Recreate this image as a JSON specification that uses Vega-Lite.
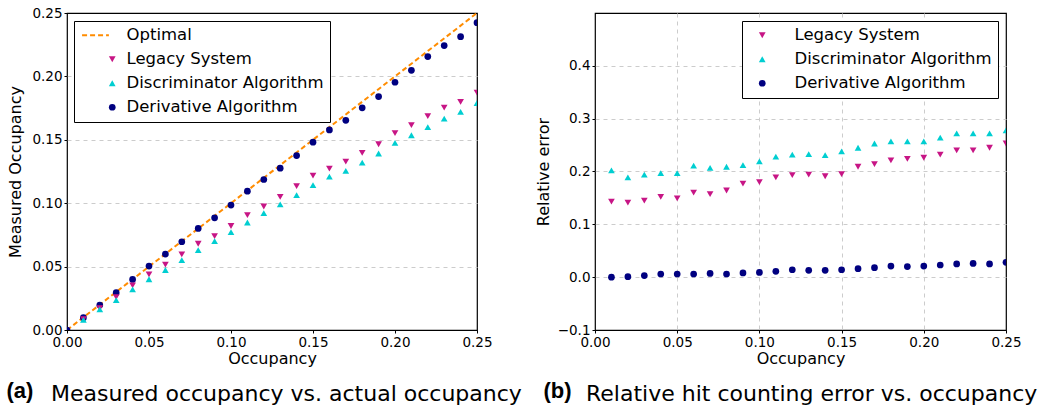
{
  "$schema": "https://vega.github.io/schema/vega-lite/v6.json",
  "background": "white",
  "padding": {"left": 5, "top": 5, "right": 5, "bottom": 5},
  "bounds": "flush",
  "spacing": 118,
  "config": {
    "font": "DejaVu Sans",
    "view": {"stroke": "black", "strokeWidth": 1.2},
    "axis": {
      "domain": false,
      "grid": true,
      "gridDash": [4, 4],
      "gridColor": "#cccccc",
      "gridWidth": 1,
      "tickColor": "black",
      "tickSize": 3,
      "labelFlush": false,
      "labelFont": "DejaVu Sans",
      "labelFontSize": 13.5,
      "labelColor": "black",
      "labelPadding": 2,
      "titleFont": "DejaVu Sans",
      "titleFontSize": 16,
      "titleFontWeight": "normal",
      "titleColor": "black"
    },
    "legend": {
      "labelLimit": 400
    },
    "title": {
      "font": "DejaVu Sans",
      "fontSize": 22,
      "fontWeight": "normal",
      "color": "black",
      "orient": "bottom",
      "anchor": "start",
      "frame": "group",
      "offset": -17
    }
  },
  "datasets": {
    "measured": [
      {"occ": 0.00, "val": 0.0, "series": "Derivative Algorithm"},
      {"occ": 0.01, "val": 0.0097, "series": "Derivative Algorithm"},
      {"occ": 0.02, "val": 0.0197, "series": "Derivative Algorithm"},
      {"occ": 0.03, "val": 0.0294, "series": "Derivative Algorithm"},
      {"occ": 0.04, "val": 0.0399, "series": "Derivative Algorithm"},
      {"occ": 0.05, "val": 0.0504, "series": "Derivative Algorithm"},
      {"occ": 0.06, "val": 0.0599, "series": "Derivative Algorithm"},
      {"occ": 0.07, "val": 0.0696, "series": "Derivative Algorithm"},
      {"occ": 0.08, "val": 0.0801, "series": "Derivative Algorithm"},
      {"occ": 0.09, "val": 0.0885, "series": "Derivative Algorithm"},
      {"occ": 0.10, "val": 0.0985, "series": "Derivative Algorithm"},
      {"occ": 0.11, "val": 0.1095, "series": "Derivative Algorithm"},
      {"occ": 0.12, "val": 0.1187, "series": "Derivative Algorithm"},
      {"occ": 0.13, "val": 0.1276, "series": "Derivative Algorithm"},
      {"occ": 0.14, "val": 0.1376, "series": "Derivative Algorithm"},
      {"occ": 0.15, "val": 0.1481, "series": "Derivative Algorithm"},
      {"occ": 0.16, "val": 0.1578, "series": "Derivative Algorithm"},
      {"occ": 0.17, "val": 0.1654, "series": "Derivative Algorithm"},
      {"occ": 0.18, "val": 0.1752, "series": "Derivative Algorithm"},
      {"occ": 0.19, "val": 0.1841, "series": "Derivative Algorithm"},
      {"occ": 0.20, "val": 0.1954, "series": "Derivative Algorithm"},
      {"occ": 0.21, "val": 0.2048, "series": "Derivative Algorithm"},
      {"occ": 0.22, "val": 0.2156, "series": "Derivative Algorithm"},
      {"occ": 0.23, "val": 0.2243, "series": "Derivative Algorithm"},
      {"occ": 0.24, "val": 0.2313, "series": "Derivative Algorithm"},
      {"occ": 0.25, "val": 0.2424, "series": "Derivative Algorithm"},
      {"occ": 0.01, "val": 0.0086, "series": "Legacy System"},
      {"occ": 0.02, "val": 0.0172, "series": "Legacy System"},
      {"occ": 0.03, "val": 0.026, "series": "Legacy System"},
      {"occ": 0.04, "val": 0.0352, "series": "Legacy System"},
      {"occ": 0.05, "val": 0.0439, "series": "Legacy System"},
      {"occ": 0.06, "val": 0.0515, "series": "Legacy System"},
      {"occ": 0.07, "val": 0.0596, "series": "Legacy System"},
      {"occ": 0.08, "val": 0.068, "series": "Legacy System"},
      {"occ": 0.09, "val": 0.074, "series": "Legacy System"},
      {"occ": 0.10, "val": 0.082, "series": "Legacy System"},
      {"occ": 0.11, "val": 0.0906, "series": "Legacy System"},
      {"occ": 0.12, "val": 0.0974, "series": "Legacy System"},
      {"occ": 0.13, "val": 0.105, "series": "Legacy System"},
      {"occ": 0.14, "val": 0.1134, "series": "Legacy System"},
      {"occ": 0.15, "val": 0.1218, "series": "Legacy System"},
      {"occ": 0.16, "val": 0.1273, "series": "Legacy System"},
      {"occ": 0.17, "val": 0.1328, "series": "Legacy System"},
      {"occ": 0.18, "val": 0.1397, "series": "Legacy System"},
      {"occ": 0.19, "val": 0.1465, "series": "Legacy System"},
      {"occ": 0.20, "val": 0.1552, "series": "Legacy System"},
      {"occ": 0.21, "val": 0.1615, "series": "Legacy System"},
      {"occ": 0.22, "val": 0.1686, "series": "Legacy System"},
      {"occ": 0.23, "val": 0.1754, "series": "Legacy System"},
      {"occ": 0.24, "val": 0.1799, "series": "Legacy System"},
      {"occ": 0.25, "val": 0.1872, "series": "Legacy System"},
      {"occ": 0.01, "val": 0.008, "series": "Discriminator Algorithm"},
      {"occ": 0.02, "val": 0.0162, "series": "Discriminator Algorithm"},
      {"occ": 0.03, "val": 0.0236, "series": "Discriminator Algorithm"},
      {"occ": 0.04, "val": 0.032, "series": "Discriminator Algorithm"},
      {"occ": 0.05, "val": 0.040, "series": "Discriminator Algorithm"},
      {"occ": 0.06, "val": 0.0473, "series": "Discriminator Algorithm"},
      {"occ": 0.07, "val": 0.0551, "series": "Discriminator Algorithm"},
      {"occ": 0.08, "val": 0.063, "series": "Discriminator Algorithm"},
      {"occ": 0.09, "val": 0.0701, "series": "Discriminator Algorithm"},
      {"occ": 0.10, "val": 0.0772, "series": "Discriminator Algorithm"},
      {"occ": 0.11, "val": 0.0848, "series": "Discriminator Algorithm"},
      {"occ": 0.12, "val": 0.0922, "series": "Discriminator Algorithm"},
      {"occ": 0.13, "val": 0.099, "series": "Discriminator Algorithm"},
      {"occ": 0.14, "val": 0.1064, "series": "Discriminator Algorithm"},
      {"occ": 0.15, "val": 0.1142, "series": "Discriminator Algorithm"},
      {"occ": 0.16, "val": 0.121, "series": "Discriminator Algorithm"},
      {"occ": 0.17, "val": 0.1255, "series": "Discriminator Algorithm"},
      {"occ": 0.18, "val": 0.132, "series": "Discriminator Algorithm"},
      {"occ": 0.19, "val": 0.1392, "series": "Discriminator Algorithm"},
      {"occ": 0.20, "val": 0.1476, "series": "Discriminator Algorithm"},
      {"occ": 0.21, "val": 0.1536, "series": "Discriminator Algorithm"},
      {"occ": 0.22, "val": 0.160, "series": "Discriminator Algorithm"},
      {"occ": 0.23, "val": 0.1667, "series": "Discriminator Algorithm"},
      {"occ": 0.24, "val": 0.172, "series": "Discriminator Algorithm"},
      {"occ": 0.25, "val": 0.179, "series": "Discriminator Algorithm"}
    ],
    "optimal": [
      {"occ": 0.0, "val": 0.0, "series": "Optimal"},
      {"occ": 0.25, "val": 0.25, "series": "Optimal"}
    ],
    "relerr": [
      {"occ": 0.01, "val": 0.143, "series": "Legacy System"},
      {"occ": 0.02, "val": 0.141, "series": "Legacy System"},
      {"occ": 0.03, "val": 0.145, "series": "Legacy System"},
      {"occ": 0.04, "val": 0.152, "series": "Legacy System"},
      {"occ": 0.05, "val": 0.149, "series": "Legacy System"},
      {"occ": 0.06, "val": 0.160, "series": "Legacy System"},
      {"occ": 0.07, "val": 0.157, "series": "Legacy System"},
      {"occ": 0.08, "val": 0.164, "series": "Legacy System"},
      {"occ": 0.09, "val": 0.177, "series": "Legacy System"},
      {"occ": 0.10, "val": 0.180, "series": "Legacy System"},
      {"occ": 0.11, "val": 0.189, "series": "Legacy System"},
      {"occ": 0.12, "val": 0.193, "series": "Legacy System"},
      {"occ": 0.13, "val": 0.194, "series": "Legacy System"},
      {"occ": 0.14, "val": 0.191, "series": "Legacy System"},
      {"occ": 0.15, "val": 0.195, "series": "Legacy System"},
      {"occ": 0.16, "val": 0.209, "series": "Legacy System"},
      {"occ": 0.17, "val": 0.214, "series": "Legacy System"},
      {"occ": 0.18, "val": 0.221, "series": "Legacy System"},
      {"occ": 0.19, "val": 0.224, "series": "Legacy System"},
      {"occ": 0.20, "val": 0.226, "series": "Legacy System"},
      {"occ": 0.21, "val": 0.232, "series": "Legacy System"},
      {"occ": 0.22, "val": 0.240, "series": "Legacy System"},
      {"occ": 0.23, "val": 0.240, "series": "Legacy System"},
      {"occ": 0.24, "val": 0.245, "series": "Legacy System"},
      {"occ": 0.25, "val": 0.253, "series": "Legacy System"},
      {"occ": 0.01, "val": 0.202, "series": "Discriminator Algorithm"},
      {"occ": 0.02, "val": 0.189, "series": "Discriminator Algorithm"},
      {"occ": 0.03, "val": 0.194, "series": "Discriminator Algorithm"},
      {"occ": 0.04, "val": 0.197, "series": "Discriminator Algorithm"},
      {"occ": 0.05, "val": 0.197, "series": "Discriminator Algorithm"},
      {"occ": 0.06, "val": 0.211, "series": "Discriminator Algorithm"},
      {"occ": 0.07, "val": 0.207, "series": "Discriminator Algorithm"},
      {"occ": 0.08, "val": 0.209, "series": "Discriminator Algorithm"},
      {"occ": 0.09, "val": 0.212, "series": "Discriminator Algorithm"},
      {"occ": 0.10, "val": 0.219, "series": "Discriminator Algorithm"},
      {"occ": 0.11, "val": 0.228, "series": "Discriminator Algorithm"},
      {"occ": 0.12, "val": 0.232, "series": "Discriminator Algorithm"},
      {"occ": 0.13, "val": 0.233, "series": "Discriminator Algorithm"},
      {"occ": 0.14, "val": 0.231, "series": "Discriminator Algorithm"},
      {"occ": 0.15, "val": 0.238, "series": "Discriminator Algorithm"},
      {"occ": 0.16, "val": 0.245, "series": "Discriminator Algorithm"},
      {"occ": 0.17, "val": 0.253, "series": "Discriminator Algorithm"},
      {"occ": 0.18, "val": 0.257, "series": "Discriminator Algorithm"},
      {"occ": 0.19, "val": 0.257, "series": "Discriminator Algorithm"},
      {"occ": 0.20, "val": 0.257, "series": "Discriminator Algorithm"},
      {"occ": 0.21, "val": 0.264, "series": "Discriminator Algorithm"},
      {"occ": 0.22, "val": 0.272, "series": "Discriminator Algorithm"},
      {"occ": 0.23, "val": 0.272, "series": "Discriminator Algorithm"},
      {"occ": 0.24, "val": 0.272, "series": "Discriminator Algorithm"},
      {"occ": 0.25, "val": 0.278, "series": "Discriminator Algorithm"},
      {"occ": 0.01, "val": 0.000, "series": "Derivative Algorithm"},
      {"occ": 0.02, "val": 0.001, "series": "Derivative Algorithm"},
      {"occ": 0.03, "val": 0.003, "series": "Derivative Algorithm"},
      {"occ": 0.04, "val": 0.006, "series": "Derivative Algorithm"},
      {"occ": 0.05, "val": 0.006, "series": "Derivative Algorithm"},
      {"occ": 0.06, "val": 0.006, "series": "Derivative Algorithm"},
      {"occ": 0.07, "val": 0.007, "series": "Derivative Algorithm"},
      {"occ": 0.08, "val": 0.006, "series": "Derivative Algorithm"},
      {"occ": 0.09, "val": 0.008, "series": "Derivative Algorithm"},
      {"occ": 0.10, "val": 0.009, "series": "Derivative Algorithm"},
      {"occ": 0.11, "val": 0.011, "series": "Derivative Algorithm"},
      {"occ": 0.12, "val": 0.014, "series": "Derivative Algorithm"},
      {"occ": 0.13, "val": 0.013, "series": "Derivative Algorithm"},
      {"occ": 0.14, "val": 0.013, "series": "Derivative Algorithm"},
      {"occ": 0.15, "val": 0.014, "series": "Derivative Algorithm"},
      {"occ": 0.16, "val": 0.016, "series": "Derivative Algorithm"},
      {"occ": 0.17, "val": 0.018, "series": "Derivative Algorithm"},
      {"occ": 0.18, "val": 0.021, "series": "Derivative Algorithm"},
      {"occ": 0.19, "val": 0.020, "series": "Derivative Algorithm"},
      {"occ": 0.20, "val": 0.021, "series": "Derivative Algorithm"},
      {"occ": 0.21, "val": 0.023, "series": "Derivative Algorithm"},
      {"occ": 0.22, "val": 0.025, "series": "Derivative Algorithm"},
      {"occ": 0.23, "val": 0.026, "series": "Derivative Algorithm"},
      {"occ": 0.24, "val": 0.025, "series": "Derivative Algorithm"},
      {"occ": 0.25, "val": 0.028, "series": "Derivative Algorithm"}
    ]
  },
  "resolve": {
    "scale": {"color": "independent", "shape": "independent", "x": "independent", "y": "independent"},
    "legend": {"color": "independent", "shape": "independent"}
  },
  "hconcat": [
    {
      "width": 410,
      "height": 317,
      "title": {"text": "Measured occupancy vs. actual occupancy", "dx": -16},
      "resolve": {"axis": {"x": "independent"}},
      "layer": [
        {
          "data": {"name": "optimal"},
          "mark": {"type": "line", "color": "#ff8c00", "strokeWidth": 2, "strokeDash": [5, 3], "clip": true},
          "encoding": {
            "x": {"field": "occ", "type": "quantitative", "axis": null},
            "y": {"field": "val", "type": "quantitative"}
          }
        },
        {
          "data": {"name": "measured"},
          "mark": {"type": "point", "filled": true, "opacity": 1, "size": 45, "clip": true},
          "encoding": {
            "x": {
              "field": "occ", "type": "quantitative", "title": "Occupancy",
              "scale": {"domain": [0, 0.25], "nice": false, "zero": false},
              "axis": {
                "orient": "bottom",
                "values": [0, 0.05, 0.1, 0.15, 0.2, 0.25], "format": ".2f", "titlePadding": 2,
                "gridOpacity": {"condition": {"test": "datum.value <= 0 || datum.value >= 0.25", "value": 0}, "value": 1}
              }
            },
            "y": {
              "field": "val", "type": "quantitative", "title": "Measured Occupancy",
              "scale": {"domain": [0, 0.25], "nice": false, "zero": false},
              "axis": {
                "values": [0, 0.05, 0.1, 0.15, 0.2, 0.25], "format": ".2f", "titlePadding": 8,
                "gridOpacity": {"condition": {"test": "datum.value <= 0 || datum.value >= 0.25", "value": 0}, "value": 1}
              }
            },
            "color": {
              "field": "series", "type": "nominal",
              "scale": {
                "domain": ["Optimal", "Legacy System", "Discriminator Algorithm", "Derivative Algorithm"],
                "range": ["#ff8c00", "#c71585", "#00ced1", "#000080"]
              },
              "legend": {
                "orient": "none", "legendX": 7, "legendY": 8, "title": null,
                "fillColor": "white", "strokeColor": "black", "padding": 6, "cornerRadius": 0,
                "labelFont": "DejaVu Sans", "labelFontSize": 16.5, "labelColor": "black",
                "symbolSize": 45, "rowPadding": 7, "labelOffset": 6, "symbolOffset": 24,
                "symbolStrokeColor": {"expr": "datum.value === 'Optimal' ? '#ff8c00' : 'transparent'"},
                "symbolStrokeWidth": {"expr": "datum.value === 'Optimal' ? 2 : 0"},
                "symbolDash": {"expr": "datum.value === 'Optimal' ? [5, 3] : [1, 0]"}
              }
            },
            "shape": {
              "field": "series", "type": "nominal",
              "scale": {
                "domain": ["Optimal", "Legacy System", "Discriminator Algorithm", "Derivative Algorithm"],
                "range": ["M-9,0L-1,0", "triangle-down", "triangle-up", "circle"]
              }
            }
          }
        },
        {
          "mark": {"type": "rule", "color": "black", "strokeWidth": 1.2},
          "encoding": {
            "x": {
              "datum": 0, "type": "quantitative",
              "axis": {
                "orient": "bottom", "title": "(a)", "grid": false, "ticks": false, "labels": false, "domain": false,
                "titleFont": "Liberation Sans", "titleFontSize": 22, "titleFontWeight": "bold",
                "titleAnchor": "start", "titleAlign": "left", "titleX": -61, "titlePadding": 50
              }
            }
          }
        }
      ]
    },
    {
      "width": 411,
      "height": 317,
      "title": {"text": "Relative hit counting error vs. occupancy", "dx": -9},
      "resolve": {"axis": {"x": "independent"}},
      "layer": [
        {
          "data": {"name": "relerr"},
          "mark": {"type": "point", "filled": true, "opacity": 1, "size": 45, "clip": true},
          "encoding": {
            "x": {
              "field": "occ", "type": "quantitative", "title": "Occupancy",
              "scale": {"domain": [0, 0.25], "nice": false, "zero": false},
              "axis": {
                "orient": "bottom",
                "values": [0, 0.05, 0.1, 0.15, 0.2, 0.25], "format": ".2f", "titlePadding": 2,
                "gridOpacity": {"condition": {"test": "datum.value <= 0 || datum.value >= 0.25", "value": 0}, "value": 1}
              }
            },
            "y": {
              "field": "val", "type": "quantitative", "title": "Relative error",
              "scale": {"domain": [-0.1, 0.5], "nice": false, "zero": false},
              "axis": {
                "values": [-0.1, 0, 0.1, 0.2, 0.3, 0.4], "format": ".1f", "titlePadding": 6,
                "gridOpacity": {"condition": {"test": "datum.value <= -0.1", "value": 0}, "value": 1}
              }
            },
            "color": {
              "field": "series", "type": "nominal",
              "scale": {
                "domain": ["Legacy System", "Discriminator Algorithm", "Derivative Algorithm"],
                "range": ["#c71585", "#00ced1", "#000080"]
              },
              "legend": {
                "orient": "none", "legendX": 147, "legendY": 8, "title": null,
                "fillColor": "white", "strokeColor": "black", "padding": 6, "cornerRadius": 0,
                "labelFont": "DejaVu Sans", "labelFontSize": 16.5, "labelColor": "black",
                "symbolSize": 45, "rowPadding": 7, "labelOffset": 24, "symbolOffset": 6
              }
            },
            "shape": {
              "field": "series", "type": "nominal",
              "scale": {
                "domain": ["Legacy System", "Discriminator Algorithm", "Derivative Algorithm"],
                "range": ["triangle-down", "triangle-up", "circle"]
              }
            }
          }
        },
        {
          "mark": {"type": "rule", "color": "black", "strokeWidth": 1.2},
          "encoding": {
            "x": {
              "datum": 0, "type": "quantitative",
              "axis": {
                "orient": "bottom", "title": "(b)", "grid": false, "ticks": false, "labels": false, "domain": false,
                "titleFont": "Liberation Sans", "titleFontSize": 22, "titleFontWeight": "bold",
                "titleAnchor": "start", "titleAlign": "left", "titleX": -52, "titlePadding": 50
              }
            }
          }
        }
      ]
    }
  ]
}
